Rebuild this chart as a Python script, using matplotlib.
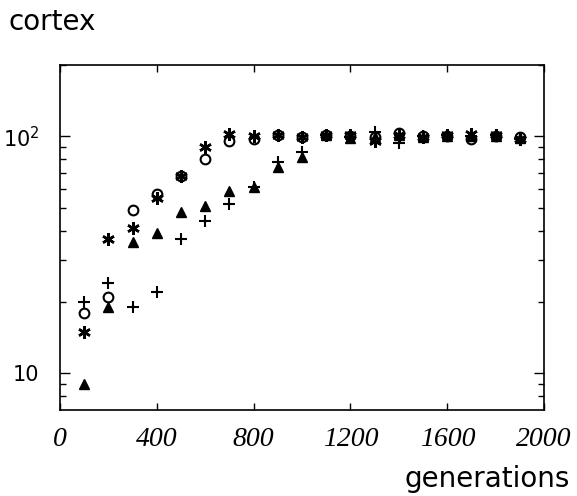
import matplotlib.pyplot as plt
from matplotlib.ticker import FixedLocator, NullFormatter

generations = [100, 200, 300, 400, 500, 600, 700, 800, 900, 1000,
               1100, 1200, 1300, 1400, 1500, 1600, 1700, 1800, 1900]

circles = [18, 21, 49, 57, 68, 80, 96, 97, 101, 99,
           101, 100, 99, 103, 100, 100, 97, 100, 99]
stars = [15, 37, 41, 55, 68, 90, 102, 100, 101, 99,
         101, 101, 96, 101, 99, 101, 102, 101, 97]
triangles = [9, 19, 36, 39, 48, 51, 59, 61, 74, 82,
             101, 98, 99, 101, 99, 100, 100, 100, 98]
pluses = [20, 24, 19, 22, 37, 44, 52, 61, 78, 86,
          101, 99, 104, 94, 100, 101, 100, 101, 97]

fig = plt.figure(figsize=(5.77, 4.96), dpi=100)
ax = fig.add_axes([0.104, 0.173, 0.839, 0.696])

ax.plot(generations, circles, 'o', ms=7, mfc='none', mec='black', mew=1.5)
ax.plot(generations, stars, ls='none', marker=(6, 2, 0), ms=9, mec='black', mew=1.8)
ax.plot(generations, triangles, '^', ms=7.5, color='black')
ax.plot(generations, pluses, '+', ms=9, mec='black', mew=1.5)

ax.set_yscale('log')
ax.set_xlim(0, 2000)
ax.set_ylim(7, 200)

ax.set_xticks([0, 400, 800, 1200, 1600, 2000])
ax.set_xticklabels(['0', '400', '800', '1200', '1600', '2000'],
                   family='Liberation Serif', style='italic', fontsize=20)
ax.yaxis.set_major_locator(FixedLocator([10, 100]))
ax.set_yticklabels(['10', '10$^2$'], family='DejaVu Sans', fontsize=15)
ax.yaxis.set_minor_locator(FixedLocator([8, 9, 20, 30, 40, 50, 60, 70, 80, 90, 200]))
ax.yaxis.set_minor_formatter(NullFormatter())

ax.tick_params(axis='both', which='both', direction='in', top=True, right=True)
ax.tick_params(axis='x', which='major', length=5, width=1, pad=12)
ax.tick_params(axis='y', which='major', length=7, width=1, pad=15)
ax.tick_params(axis='y', which='minor', length=4, width=1)
for spine in ax.spines.values():
    spine.set_linewidth(1.2)

fig.text(0.014, 0.955, 'cortex', family='DejaVu Sans', fontsize=20, va='center')
fig.text(0.988, 0.035, 'generations', family='DejaVu Sans', fontsize=20,
         ha='right', va='center')

fig.savefig('out.png', dpi=100)
